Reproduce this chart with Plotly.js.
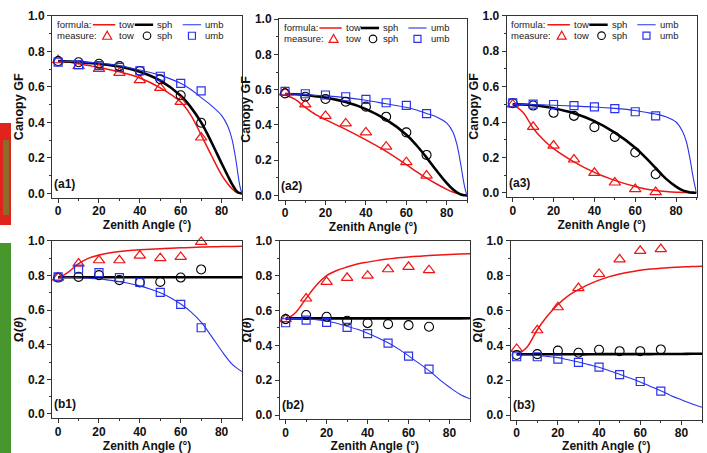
<!DOCTYPE html>
<html><head><meta charset="utf-8">
<script src="https://cdn.plot.ly/plotly-3.0.1.min.js"></script>
<style>html,body{margin:0;padding:0;background:#fff}#chart{width:707px;height:453px}</style>
</head><body><div id="chart"></div>
<script>
// ---------- DATA ----------
const curveAnglesA = [0,5,10,15,20,30,40,50,60,65,70,75,80,83,85,87,88,89,90];
const curveAnglesB = [0,5,10,15,20,25,30,35,40,45,50,55,60,65,70,75,80,85,90];
const measureAngles = [0,10,20,30,40,50,60,70];
const seriesNames = ['tow','sph','umb'];
const xTickVals = [0,20,40,60,80];
const yTickVals = [0.0,0.2,0.4,0.6,0.8,1.0];

// Canopy gap fraction, formula curves
const a1TowF = [0.745,0.74,0.73,0.72,0.71,0.685,0.65,0.595,0.515,0.44,0.33,0.215,0.105,0.055,0.028,0.008,0.003,0.001,0];
const a1SphF = [0.745,0.743,0.74,0.735,0.73,0.715,0.685,0.635,0.55,0.485,0.40,0.29,0.17,0.10,0.055,0.018,0.007,0.002,0];
const a1UmbF = [0.745,0.744,0.742,0.738,0.735,0.72,0.695,0.665,0.62,0.585,0.54,0.495,0.44,0.38,0.31,0.19,0.11,0.04,0];
const a2TowF = [0.57,0.545,0.5,0.46,0.43,0.375,0.315,0.25,0.175,0.135,0.098,0.065,0.035,0.02,0.012,0.005,0.003,0.001,0];
const a2SphF = [0.575,0.574,0.57,0.563,0.555,0.53,0.49,0.43,0.345,0.285,0.215,0.14,0.07,0.035,0.018,0.006,0.003,0.001,0];
const a2UmbF = [0.578,0.575,0.572,0.568,0.565,0.555,0.54,0.52,0.5,0.485,0.465,0.445,0.41,0.36,0.29,0.17,0.10,0.04,0];
const a3TowF = [0.5,0.455,0.365,0.3,0.25,0.175,0.115,0.07,0.035,0.022,0.013,0.007,0.003,0.002,0.001,0,0,0,0];
const a3SphF = [0.5,0.499,0.495,0.488,0.478,0.45,0.405,0.34,0.255,0.2,0.14,0.08,0.035,0.015,0.007,0.002,0.001,0,0];
const a3UmbF = [0.5,0.5,0.498,0.497,0.495,0.49,0.485,0.477,0.465,0.455,0.445,0.43,0.40,0.35,0.29,0.18,0.11,0.05,0];
// Canopy gap fraction, measured
const a1TowM = [0.75,0.717,0.702,0.679,0.638,0.595,0.516,0.315];
const a1SphM = [0.745,0.739,0.73,0.717,0.69,0.643,0.553,0.398];
const a1UmbM = [0.74,0.726,0.72,0.71,0.69,0.66,0.62,0.578];
const a2TowM = [0.585,0.517,0.451,0.409,0.358,0.277,0.189,0.113];
const a2SphM = [0.579,0.56,0.547,0.532,0.504,0.447,0.358,0.23];
const a2UmbM = [0.59,0.577,0.57,0.56,0.545,0.526,0.511,0.464];
const a3TowM = [0.499,0.373,0.267,0.188,0.113,0.058,0.021,0.004];
const a3SphM = [0.507,0.493,0.452,0.435,0.371,0.316,0.228,0.105];
const a3UmbM = [0.508,0.501,0.499,0.493,0.486,0.476,0.458,0.435];
// Clumping index, formula curves
const b1TowF = [0.785,0.82,0.868,0.9,0.918,0.93,0.938,0.944,0.948,0.952,0.955,0.958,0.96,0.962,0.964,0.966,0.967,0.968,0.969];
const b1SphF = [0.79,0.79,0.79,0.79,0.79,0.79,0.79,0.79,0.79,0.79,0.79,0.79,0.79,0.79,0.79,0.79,0.79,0.79,0.79];
const b1UmbF = [0.79,0.789,0.787,0.784,0.78,0.773,0.765,0.754,0.74,0.722,0.7,0.671,0.635,0.59,0.53,0.45,0.365,0.29,0.245];
const b2TowF = [0.545,0.59,0.67,0.745,0.8,0.83,0.85,0.867,0.878,0.888,0.896,0.903,0.908,0.912,0.916,0.919,0.922,0.924,0.926];
const b2SphF = [0.555,0.555,0.555,0.555,0.555,0.555,0.555,0.555,0.555,0.555,0.555,0.555,0.555,0.555,0.555,0.555,0.555,0.555,0.556];
const b2UmbF = [0.555,0.554,0.552,0.548,0.54,0.527,0.51,0.492,0.47,0.444,0.415,0.38,0.34,0.298,0.255,0.205,0.16,0.12,0.093];
const b3TowF = [0.345,0.39,0.49,0.57,0.635,0.685,0.72,0.75,0.775,0.795,0.81,0.822,0.832,0.838,0.843,0.847,0.85,0.853,0.855];
const b3SphF = [0.349,0.349,0.349,0.349,0.349,0.349,0.349,0.349,0.35,0.35,0.35,0.35,0.35,0.35,0.351,0.351,0.351,0.352,0.352];
const b3UmbF = [0.345,0.345,0.343,0.337,0.33,0.318,0.305,0.29,0.275,0.255,0.235,0.213,0.19,0.165,0.14,0.112,0.088,0.065,0.045];
// Clumping index, measured
const b1TowM = [0.788,0.869,0.888,0.888,0.915,0.9,0.907,0.994];
const b1SphM = [0.788,0.792,0.802,0.773,0.76,0.763,0.788,0.835];
const b1UmbM = [0.792,0.837,0.817,0.788,0.76,0.702,0.633,0.498];
const b2TowM = [0.551,0.669,0.765,0.788,0.8,0.837,0.851,0.832];
const b2SphM = [0.551,0.574,0.564,0.541,0.528,0.522,0.516,0.507];
const b2UmbM = [0.53,0.545,0.532,0.503,0.468,0.413,0.338,0.264];
const b3TowM = [0.38,0.487,0.619,0.729,0.81,0.894,0.943,0.953];
const b3SphM = [0.345,0.35,0.37,0.358,0.375,0.367,0.367,0.377];
const b3UmbM = [0.335,0.335,0.322,0.303,0.275,0.233,0.193,0.138];

// ---------- STYLE / LAYOUT ----------
const RED = 'rgb(240,20,20)', BLACK = '#000', BLUE = 'rgb(40,50,235)';
const lineStyle = {tow:{color:RED,width:1.5}, sph:{color:BLACK,width:2.6}, umb:{color:BLUE,width:1.1}};
const markStyle = {
  tow:{symbol:'triangle-up-open', size:10, color:RED, line:{color:RED,width:1.2}},
  sph:{symbol:'circle-open', size:9, color:BLACK, line:{color:BLACK,width:1.1}},
  umb:{symbol:'square-open', size:8, color:BLUE, line:{color:BLUE,width:1.2}}
};
const W = 707, H = 453;
function dx(a,b){return [a/W,b/W];}
function dy(top,bottom){return [1-bottom/H,1-top/H];}

const panels = [
  {tag:'(a1)', xs:'', xd:dx(52,242), yd:dy(15.7,197.9), title:'Canopy GF', cx:curveAnglesA, f:[a1TowF,a1SphF,a1UmbF], m:[a1TowM,a1SphM,a1UmbM], legend:true},
  {tag:'(a2)', xs:'2', xd:dx(279,467), yd:dy(19,199.9), title:'Canopy GF', cx:curveAnglesA, f:[a2TowF,a2SphF,a2UmbF], m:[a2TowM,a2SphM,a2UmbM], legend:true},
  {tag:'(a3)', xs:'3', xd:dx(506.6,696.5), yd:dy(15.7,197.2), title:'Canopy GF', cx:curveAnglesA, f:[a3TowF,a3SphF,a3UmbF], m:[a3TowM,a3SphM,a3UmbM], legend:true},
  {tag:'(b1)', xs:'4', xd:dx(52,242), yd:dy(240.7,418.3), title:'Ω(<i>θ</i>)', cx:curveAnglesB, f:[b1TowF,b1SphF,b1UmbF], m:[b1TowM,b1SphM,b1UmbM], legend:false},
  {tag:'(b2)', xs:'5', xd:dx(279.5,470), yd:dy(240.7,419.4), title:'Ω(<i>θ</i>)', cx:curveAnglesB, f:[b2TowF,b2SphF,b2UmbF], m:[b2TowM,b2SphM,b2UmbM], legend:false},
  {tag:'(b3)', xs:'6', xd:dx(510.5,702), yd:dy(240.7,419.5), title:'Ω(<i>θ</i>)', cx:curveAnglesB, f:[b3TowF,b3SphF,b3UmbF], m:[b3TowM,b3SphM,b3UmbM], legend:false}
];

const FONT = 'Arial, "Liberation Sans", sans-serif';
const AX = '#333';
const traces = [], shapes = [], annotations = [];
const layout = {
  width:W, height:H, margin:{l:0,r:0,t:0,b:0}, paper_bgcolor:'#fff', plot_bgcolor:'#fff',
  showlegend:false, font:{family:FONT, color:'#111'}
};

panels.forEach(p => {
  const xa = 'x'+p.xs, ya = 'y'+p.xs;
  seriesNames.forEach((s,i) => {
    traces.push({type:'scatter', mode:'lines', name:'formula: '+s, x:p.cx, y:p.f[i],
      xaxis:xa, yaxis:ya, line:Object.assign({shape:'spline', smoothing:1}, lineStyle[s]), hoverinfo:'skip'});
  });
  seriesNames.forEach((s,i) => {
    traces.push({type:'scatter', mode:'markers', name:'measure: '+s, x:measureAngles, y:p.m[i],
      xaxis:xa, yaxis:ya, marker:markStyle[s], cliponaxis:false});
  });
  layout['xaxis'+p.xs] = {
    domain:p.xd, anchor:ya, range:[-3,90], tickmode:'array', tickvals:xTickVals, ticktext:xTickVals.map(String),
    ticks:'outside', ticklen:4, tickwidth:1, tickcolor:AX, showline:true, linecolor:AX, linewidth:1, mirror:true,
    showgrid:false, zeroline:false, tickfont:{family:FONT, size:12, weight:'bold', color:'#111'}, ticklabelstandoff:-2,
    minor:{ticks:'outside', ticklen:2, tickwidth:1, tickcolor:AX, dtick:10, tick0:0, showgrid:false},
    title:{text:'Zenith Angle (°)', font:{family:FONT, size:12, weight:'bold', color:'#111'}, standoff:0}
  };
  layout['yaxis'+p.xs] = {
    domain:p.yd, anchor:xa, range:[-0.025,1.001], tickmode:'array', tickvals:yTickVals, ticktext:yTickVals.map(v=>v.toFixed(1)),
    ticks:'outside', ticklen:4, tickwidth:1, tickcolor:AX, showline:true, linecolor:AX, linewidth:1, mirror:true,
    showgrid:false, zeroline:false, tickfont:{family:FONT, size:12, weight:'bold', color:'#111'},
    minor:{ticks:'outside', ticklen:2, tickwidth:1, tickcolor:AX, dtick:0.1, tick0:0, showgrid:false},
    title:{text:p.title, font:{family:FONT, size:12.5, weight:'bold', color:'#111'}, standoff:1}
  };
  annotations.push({xref:xa, yref:ya, x:-2.8, y:0.005, xanchor:'left', yanchor:'bottom', text:p.tag, showarrow:false,
    font:{family:FONT, size:12, weight:'bold', color:'#111'}});

  if (p.legend) {
    const r1 = 0.95, r2 = 0.888;
    const lf = {family:FONT, size:9.5, color:'#222'};
    const txt = (x,y,t) => annotations.push({xref:xa, yref:ya, x:x, y:y, xanchor:'left', yanchor:'middle', text:t, showarrow:false, font:lf});
    txt(-1.6, r1, 'formula:'); txt(-1.6, r2, 'measure:');
    const keyLines = {tow:[17,28], sph:[37.5,46.5], umb:[61,70]};
    const keyText = {tow:29, sph:47.5, umb:71};
    const keyMark = {tow:24, sph:43.5, umb:65.5};
    seriesNames.forEach(s => {
      shapes.push({type:'line', xref:xa, yref:ya, x0:keyLines[s][0], x1:keyLines[s][1], y0:r1, y1:r1, line:lineStyle[s]});
      txt(keyText[s], r1, s); txt(keyText[s], r2, s);
    });
    const base = {xref:xa, yref:ya, xsizemode:'pixel', ysizemode:'pixel', yanchor:r2};
    shapes.push(Object.assign({type:'path', xanchor:keyMark.tow, path:'M-4.5,-3.5 L4.5,-3.5 L0,4.5 Z', line:{color:RED,width:1.2}}, base));
    shapes.push(Object.assign({type:'circle', xanchor:keyMark.sph, x0:-3.8, x1:3.8, y0:-3.8, y1:3.8, line:{color:BLACK,width:1.1}}, base));
    shapes.push(Object.assign({type:'rect', xanchor:keyMark.umb, x0:-3.5, x1:3.5, y0:-3.5, y1:3.5, line:{color:BLUE,width:1.2}}, base));
  }
});

// cropped neighbouring image strip on the left edge
shapes.push({type:'rect', xref:'paper', yref:'paper', x0:0, x1:11/W, y0:1-225/H, y1:1-123/H, fillcolor:'rgb(225,35,30)', line:{width:0}, layer:'below'});
shapes.push({type:'rect', xref:'paper', yref:'paper', x0:3/W, x1:9/W, y0:1-215/H, y1:1-140/H, fillcolor:'rgb(70,170,50)', opacity:0.55, line:{width:0}, layer:'below'});
shapes.push({type:'rect', xref:'paper', yref:'paper', x0:0, x1:11/W, y0:0, y1:1-243/H, fillcolor:'rgb(70,150,45)', line:{width:0}, layer:'below'});

layout.shapes = shapes;
layout.annotations = annotations;
Plotly.newPlot('chart', traces, layout, {staticPlot:true, displayModeBar:false});
</script></body></html>
